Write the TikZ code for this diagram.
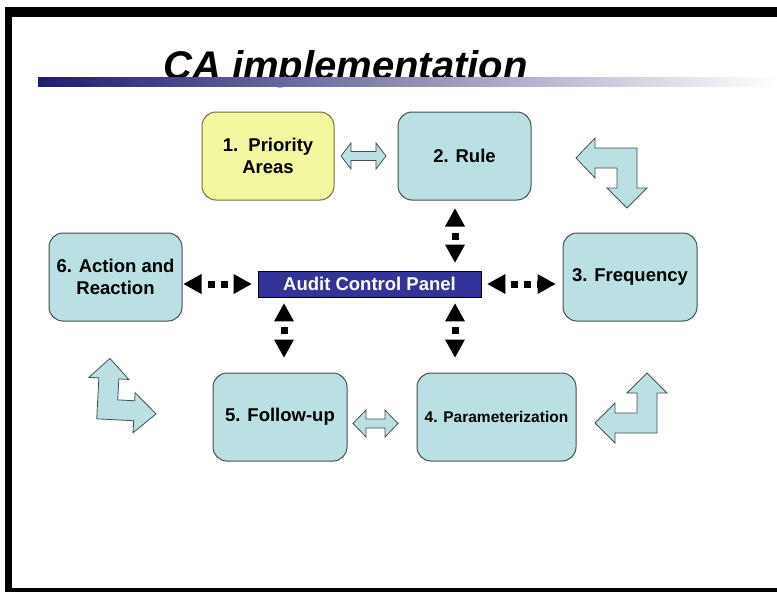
\documentclass[tikz,border=0pt]{standalone}
\usepackage{fontspec}
\setmainfont{Liberation Sans}
\usetikzlibrary{arrows.meta,calc}
\definecolor{boxblue}{RGB}{186,224,227}
\definecolor{boxline}{RGB}{70,78,80}
\definecolor{yellowbox}{RGB}{242,247,160}
\definecolor{yellowline}{RGB}{110,110,60}
\definecolor{panelblue}{RGB}{51,51,153}
\definecolor{navybar}{RGB}{28,28,110}
\begin{document}
\begin{tikzpicture}[x=1pt,y=-1pt,
  box/.style={draw=boxline, line width=1pt, fill=boxblue, rounded corners=14pt,
    minimum height=88pt, align=center, inner sep=0pt,
    font=\fontsize{18.5}{22}\selectfont\bfseries},
  dotconn/.style={line width=7pt, dash pattern=on 7pt off 6pt, dash phase=7pt,
    {Triangle[length=18pt,width=20pt,line width=0pt]}-{Triangle[length=18pt,width=20pt,line width=0pt]}},
  blockarrow/.style={fill=boxblue, draw=boxline, line width=0.8pt, line join=miter}
]
\useasboundingbox (0,0) rectangle (777,592);
\fill[white] (0,0) rectangle (777,592);
% frame
\fill[black] (5,7) rectangle (777,17);
\fill[black] (5,7) rectangle (12,591);
\fill[black] (5,588) rectangle (777,592);
% title
\node[anchor=base west, inner sep=0pt, font=\fontsize{40}{48}\selectfont\bfseries\itshape] (title) at (163,79) {CA implementation};
\shade[left color=navybar, right color=white] (38,77) rectangle (777,86);
% boxes
\node[box, fill=yellowbox, draw=yellowline, minimum width=132pt] (b1) at (268,156) {1.\ \ Priority\\Areas};
\node[box, minimum width=133pt] (b2) at (464.5,156) {2. Rule};
\node[box, minimum width=134pt] (b3) at (630,277) {3. Frequency};
\node[box, minimum width=133pt] (b6) at (115.5,277) {6. Action and\\Reaction};
\node[box, minimum width=134pt] (b5) at (280,417) {5. Follow-up};
\node[box, minimum width=159pt, font=\fontsize{15.5}{18}\selectfont\bfseries] (b4) at (496.5,417) {4. Parameterization};
\node[draw=black, line width=0.8pt, fill=panelblue, minimum width=223pt, minimum height=26pt, inner sep=0pt,
  text=white, font=\fontsize{18.5}{22}\selectfont\bfseries] (panel) at (369.5,284) {Audit Control Panel};
% dotted connectors
\draw[dotconn, shorten <=1pt, shorten >=6pt] (b6.east |- panel.west) -- (panel.west);
\draw[dotconn, shorten <=6pt, shorten >=7pt] (panel.east) -- (b3.west |- panel.east);
\draw[dotconn, shorten <=8pt, shorten >=8pt] ([xshift=-9.5pt]b2.south) -- ([xshift=-9.5pt]b2.south |- panel.north);
\draw[dotconn, shorten <=6pt, shorten >=15pt] ([xshift=-9.5pt]b2.south |- panel.south) -- ([xshift=-9.5pt]b2.south |- b4.north);
\draw[dotconn, shorten <=6pt, shorten >=15pt] ([xshift=4pt]b5.north |- panel.south) -- ([xshift=4pt]b5.north);
% block double arrows
\filldraw[blockarrow] (341,156) -- (351,143) -- (351,151.5) -- (376,151.5) -- (376,143) -- (386,156)
  -- (376,169) -- (376,160.5) -- (351,160.5) -- (351,169) -- cycle;
\filldraw[blockarrow] (353,423.5) -- (366,410) -- (366,419) -- (385,419) -- (385,410) -- (398,423.5)
  -- (385,437) -- (385,428) -- (366,428) -- (366,437) -- cycle;
% bent arrows
\filldraw[blockarrow] (576,158) -- (595,138) -- (595,148) -- (637,148) -- (637,188) -- (647,188) -- (627,208)
  -- (607,188) -- (617,188) -- (617,168) -- (595,168) -- (595,178) -- cycle;
\filldraw[blockarrow] (647,373) -- (667,393) -- (657,393) -- (657,433) -- (615,433) -- (615,443) -- (595,423)
  -- (615,403) -- (615,413) -- (637,413) -- (637,393) -- (627,393) -- cycle;
\begin{scope}[rotate around={-3:(120,395)}]
\filldraw[blockarrow] (108,359) -- (128,379) -- (118,379) -- (118,400) -- (135,400) -- (135,392) -- (157,412)
  -- (135,432) -- (135,420) -- (98,420) -- (98,379) -- (88,379) -- cycle;
\end{scope}
\end{tikzpicture}
\end{document}
